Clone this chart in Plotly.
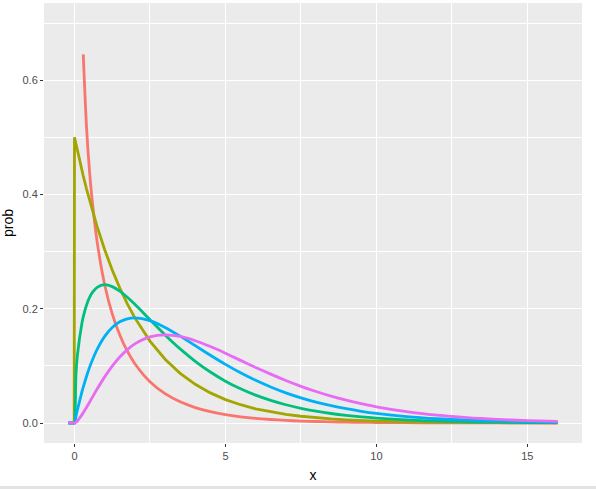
import plotly.graph_objects as go

x_vals = [-0.2, -0.01, 0, 0.05, 0.1, 0.25, 0.29, 0.4, 0.5, 0.6, 0.75, 1, 1.25, 1.5, 1.75, 2,
          2.5, 3, 3.5, 4, 4.5, 5, 5.5, 6, 6.5, 7, 7.5, 8, 8.5, 9, 9.5, 10,
          11, 12, 13, 14, 15, 16]

prob_df1 = [None, None, None, None, None, None, 0.645, 0.516, 0.439, 0.382, 0.317, 0.242, 0.191, 0.154, 0.1257, 0.1038,
            0.0723, 0.0514, 0.0371, 0.0270, 0.0198, 0.0146, 0.0109, 0.0081, 0.0061, 0.0046, 0.0034, 0.0026, 0.0020, 0.0015, 0.0011, 0.0009,
            0.0005, 0.0003, 0.0002, 0.0001, 0.0001, 0.0000]
prob_df2 = [0, 0, 0.5, 0.4877, 0.4756, 0.4412, 0.4325, 0.4094, 0.3894, 0.3704, 0.3436, 0.3033, 0.2676, 0.2362, 0.2085, 0.1839,
            0.1433, 0.1116, 0.0869, 0.0677, 0.0527, 0.0410, 0.0320, 0.0249, 0.0194, 0.0151, 0.0118, 0.0092, 0.0071, 0.0056, 0.0043, 0.0034,
            0.0020, 0.0012, 0.0008, 0.0005, 0.0003, 0.0002]
prob_df3 = [0, 0, 0, 0.0870, 0.1200, 0.1760, 0.1858, 0.2066, 0.2197, 0.2289, 0.2374, 0.2420, 0.2387, 0.2308, 0.2200, 0.2076,
            0.1807, 0.1542, 0.1297, 0.1080, 0.0892, 0.0732, 0.0598, 0.0487, 0.0395, 0.0319, 0.0257, 0.0207, 0.0166, 0.0133, 0.0106, 0.0085,
            0.0054, 0.0034, 0.0022, 0.0014, 0.0009, 0.0005]
prob_df4 = [0, 0, 0, 0.0122, 0.0238, 0.0552, 0.0627, 0.0819, 0.0974, 0.1111, 0.1289, 0.1516, 0.1673, 0.1771, 0.1824, 0.1839,
            0.1791, 0.1673, 0.1520, 0.1353, 0.1186, 0.1026, 0.0879, 0.0747, 0.0631, 0.0528, 0.0441, 0.0366, 0.0303, 0.0250, 0.0205, 0.0168,
            0.0112, 0.0074, 0.0049, 0.0032, 0.0021, 0.0013]
prob_df5 = [0, 0, 0, 0.0015, 0.0040, 0.0147, 0.0180, 0.0275, 0.0366, 0.0458, 0.0594, 0.0807, 0.0995, 0.1154, 0.1284, 0.1384,
            0.1506, 0.1542, 0.1514, 0.1440, 0.1338, 0.1221, 0.1096, 0.0973, 0.0855, 0.0744, 0.0642, 0.0551, 0.0470, 0.0399, 0.0337, 0.0283,
            0.0198, 0.0137, 0.0094, 0.0064, 0.0043, 0.0029]

series = [prob_df1, prob_df2, prob_df3, prob_df4, prob_df5]
colors = ["#F8766D", "#A3A500", "#00BF7D", "#00B0F6", "#E76BF3"]
shapes = ["spline", "linear", "spline", "spline", "spline"]

x_ticks = [0, 5, 10, 15]
y_ticks = [0.0, 0.2, 0.4, 0.6]
y_tick_labels = ["0.0", "0.2", "0.4", "0.6"]

fig = go.Figure()
for ys, c, sh in zip(series, colors, shapes):
    line = dict(color=c, width=2.8, shape=sh)
    if sh == "spline":
        line["smoothing"] = 0.8
    fig.add_trace(go.Scatter(x=x_vals, y=ys, mode="lines", line=line,
                             connectgaps=False, showlegend=False, hoverinfo="skip"))

axis_common = dict(showline=False, zeroline=False, gridcolor="white", gridwidth=1.1,
                   ticks="outside", ticklen=3, tickcolor="#333333", tickwidth=1, automargin=False,
                   tickfont=dict(family="Liberation Sans, Arial, sans-serif", size=11, color="#4D4D4D"),
                   minor=dict(showgrid=True, gridcolor="white", gridwidth=0.5, ticks=""))

fig.update_xaxes(range=[-1.01, 16.81], tickvals=x_ticks, ticktext=[str(v) for v in x_ticks],
                 minor_tickvals=[2.5, 7.5, 12.5],
                 title=dict(text="x", standoff=8,
                            font=dict(family="Liberation Sans, Arial, sans-serif", size=14, color="black")),
                 **axis_common)
fig.update_yaxes(range=[-0.035, 0.735], tickvals=y_ticks, ticktext=y_tick_labels,
                 minor_tickvals=[0.1, 0.3, 0.5, 0.7],
                 title=dict(text="prob", standoff=8,
                            font=dict(family="Liberation Sans, Arial, sans-serif", size=14, color="black")),
                 **axis_common)

fig.update_layout(width=596, height=489, margin=dict(l=44, r=14, t=3, b=46),
                  plot_bgcolor="#EBEBEB", paper_bgcolor="white",
                  shapes=[dict(type="rect", xref="paper", yref="paper", x0=-0.1, x1=1.1,
                               y0=-46/440, y1=-43/440, fillcolor="#E3E3E3", line=dict(width=0), layer="below")])

fig.write_html("out.html", config={"displayModeBar": False},
               post_script="document.body.style.margin='0px';")
